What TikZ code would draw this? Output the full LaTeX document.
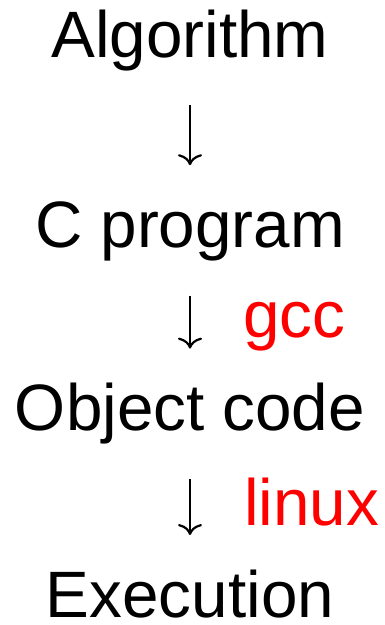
\documentclass[tikz,border=0pt]{standalone}
\usepackage{fontspec}
\setmainfont{Liberation Sans}
\usetikzlibrary{positioning, arrows.meta}
\tikzset{step node/.style={font=\fontsize{65.6}{70}\selectfont, inner sep=0pt, text height=48pt, text depth=14pt},
         tool node/.style={font=\fontsize{65.6}{70}\selectfont, text=red, inner sep=0pt, anchor=base west},
         flow/.style={line width=2.2pt, -{To[length=11pt, width=24pt, line width=2.2pt]}, shorten <=34pt, shorten >=34pt}}

\begin{document}
\begin{tikzpicture}
            \useasboundingbox (0pt,0pt) rectangle (384pt,-625pt);
            \node[step node, anchor=base] (alg) at (190pt,-57pt) {Algorithm};
            \node[step node] (cprog) [below = 128pt of alg] {C program};
            \node[step node] (obj) [below = 121pt of cprog] {Object code};
            \node[step node, text depth=0pt] (exec) [below = 124pt of obj] {Execution};

            \node[tool node] (gcc) at (243pt,-337pt) {gcc};
            \node[tool node] (linux) at (244pt,-525pt) {linux};

            \path[flow]
            (alg) edge (cprog)
            (cprog) edge (obj)
            (obj) edge (exec);
        \end{tikzpicture}
\end{document}
